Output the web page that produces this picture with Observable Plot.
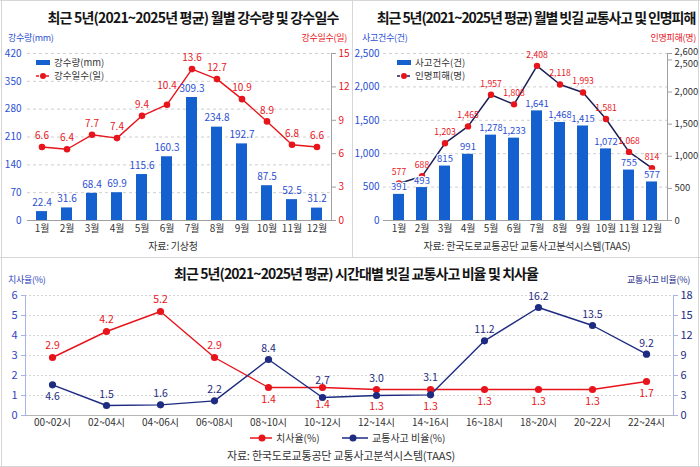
<!DOCTYPE html>
<html>
<head>
<meta charset="utf-8">
<script src="https://cdn.jsdelivr.net/npm/d3@7"></script>
<script src="https://cdn.jsdelivr.net/npm/@observablehq/plot@0.6"></script>
<style>
  html, body { margin: 0; padding: 0; background: #fff; font-family: "Noto Sans CJK KR", "Noto Sans", sans-serif; }
  #page { position: relative; width: 700px; height: 467px; overflow: hidden; background: #fff; }
  .abs { position: absolute; white-space: nowrap; line-height: 1; }
  .title { font-weight: 700; font-size: 14px; color: #141414; transform: translateX(-50%); }
  .axt { font-size: 9px; letter-spacing: -0.3px; }
  .src { font-size: 10px; color: #333; transform: translateX(-50%); letter-spacing: -0.2px; }
  .leg { font-size: 9.5px; color: #333; display: flex; align-items: center; gap: 4px; }
  .chart { position: absolute; line-height: 0; }
  .chart svg { display: block; margin: 0; }
  .rule { position: absolute; background: #d6d6d6; }
</style>
</head>
<body>
<div id="page">
  <div class="rule" style="left:0;top:0;width:700px;height:1px"></div>
  <div class="rule" style="left:0;top:466px;width:700px;height:1px"></div>
  <div class="rule" style="left:1px;top:0;width:1px;height:467px"></div>
  <div class="rule" style="left:698px;top:0;width:1px;height:467px"></div>
  <div class="rule" style="left:352px;top:0;width:1px;height:257px"></div>
  <div class="rule" style="left:0;top:257px;width:700px;height:1px"></div>

  <div id="tl" class="chart" style="left:0;top:0;width:352px;height:257px"></div>
  <div id="tr" class="chart" style="left:353px;top:0;width:347px;height:257px"></div>
  <div id="bt" class="chart" style="left:0;top:258px;width:700px;height:209px"></div>

  <div class="abs title" style="left:193px;top:10px;letter-spacing:-0.8px">최근 5년(2021~2025년 평균) 월별 강수량 및 강수일수</div>
  <div class="abs title" style="left:536px;top:10px;letter-spacing:-1.1px">최근 5년(2021~2025년 평균) 월별 빗길 교통사고 및 인명피해</div>
  <div class="abs title" style="left:356px;top:266px;letter-spacing:-0.9px">최근 5년(2021~2025년 평균) 시간대별 빗길 교통사고 비율 및 치사율</div>

  <div class="abs axt" style="left:8px;top:33px;color:#2b4fd3">강수량(mm)</div>
  <div class="abs axt" style="right:353px;top:33px;color:#e8141c">강수일수(일)</div>
  <div class="abs axt" style="left:362px;top:33px;color:#2b4fd3">사고건수(건)</div>
  <div class="abs axt" style="right:4px;top:33px;color:#e8141c">인명피해(명)</div>
  <div class="abs axt" style="left:8px;top:275px;color:#2f45c0">치사율(%)</div>
  <div class="abs axt" style="right:10px;top:275px;color:#1f2e8a">교통사고 비율(%)</div>

  <div class="abs leg" style="left:36px;top:58px">
    <svg width="14" height="8"><rect x="0" y="1" width="14" height="5" fill="#1560cf"/></svg><span>강수량(mm)</span>
  </div>
  <div class="abs leg" style="left:36px;top:71px">
    <svg width="14" height="8"><line x1="0" y1="4" x2="14" y2="4" stroke="#e8141c" stroke-dasharray="3,2" stroke-width="1.5"/><circle cx="7" cy="4" r="3" fill="#e8141c"/></svg><span>강수일수(일)</span>
  </div>
  <div class="abs leg" style="left:397px;top:58px">
    <svg width="14" height="8"><rect x="0" y="1" width="14" height="5" fill="#1560cf"/></svg><span>사고건수(건)</span>
  </div>
  <div class="abs leg" style="left:397px;top:71px">
    <svg width="14" height="8"><line x1="0" y1="4" x2="14" y2="4" stroke="#1b1f55" stroke-dasharray="3,2" stroke-width="1.5"/><circle cx="7" cy="4" r="3" fill="#e8141c"/></svg><span>인명피해(명)</span>
  </div>
  <div class="abs leg" style="left:250px;top:433px;font-size:10px">
    <svg width="22" height="10"><line x1="0" y1="5" x2="22" y2="5" stroke="#e8141c" stroke-width="1.5"/><circle cx="12" cy="5" r="3.5" fill="#e8141c"/></svg><span>치사율(%)</span>
  </div>
  <div class="abs leg" style="left:342px;top:433px;font-size:10px">
    <svg width="26" height="10"><line x1="0" y1="5" x2="26" y2="5" stroke="#1d2b80" stroke-width="1.5"/><circle cx="11" cy="5" r="3.5" fill="#1d2b80"/></svg><span>교통사고 비율(%)</span>
  </div>

  <div class="abs src" style="left:173px;top:241px">자료: 기상청</div>
  <div class="abs src" style="left:527px;top:241px">자료: 한국도로교통공단 교통사고분석시스템(TAAS)</div>
  <div class="abs src" style="left:341px;top:450px;font-size:11px">자료: 한국도로교통공단 교통사고분석시스템(TAAS)</div>
</div>

<script>
// Monthly averages, 2021–2025
const months = ["1월", "2월", "3월", "4월", "5월", "6월", "7월", "8월", "9월", "10월", "11월", "12월"];
const rainfall = [22.4, 31.6, 68.4, 69.9, 115.6, 160.3, 309.3, 234.8, 192.7, 87.5, 52.5, 31.2];   // mm
const rainDays = [6.6, 6.4, 7.7, 7.4, 9.4, 10.4, 13.6, 12.7, 10.9, 8.9, 6.8, 6.6];                // days
const accidents = [391, 493, 815, 991, 1278, 1233, 1641, 1468, 1415, 1072, 755, 577];             // cases
const casualties = [577, 688, 1203, 1465, 1957, 1808, 2408, 2118, 1993, 1581, 1068, 814];         // persons

// Two-hour time slots
const hours = ["00~02시", "02~04시", "04~06시", "06~08시", "08~10시", "10~12시",
               "12~14시", "14~16시", "16~18시", "18~20시", "20~22시", "22~24시"];
const fatality = [2.9, 4.2, 5.2, 2.9, 1.4, 1.4, 1.3, 1.3, 1.3, 1.3, 1.3, 1.7];                    // %
const accidentShare = [4.6, 1.5, 1.6, 2.2, 8.4, 2.7, 3.0, 3.1, 11.2, 16.2, 13.5, 9.2];             // %

// Axis ticks
const rainTicks = [0, 70, 140, 210, 280, 350, 420];
const rainDayTicks = [0, 3, 6, 9, 12, 15];
const accidentTicks = [0, 500, 1000, 1500, 2000, 2500];
const casualtyTicks = [0, 500, 1000, 1500, 2000, 2500, 2600];
const fatalityTicks = [0, 1, 2, 3, 4, 5, 6];
const shareTicks = [0, 3, 6, 9, 12, 15, 18];

const RED = "#e8141c", BLUE = "#1560cf", BLUE_TXT = "#2b4fd3", NAVY = "#1b1f55", NAVY2 = "#1d2b80";
const FONT = '"Noto Sans CJK KR", "Noto Sans", sans-serif';
const fmt = d3.format(",");

// ---------- Rainfall and rainy days ----------
{
  const data = months.map((m, i) => ({month: m, rain: rainfall[i], days: rainDays[i], i}));
  const k = 420 / 15; // rainy-day units onto the rainfall axis
  const chart = Plot.plot({
    width: 352, height: 257,
    marginLeft: 27, marginRight: 21, marginTop: 53, marginBottom: 37,
    style: {fontFamily: FONT, fontSize: "10px", background: "transparent", overflow: "visible"},
    x: {domain: months, paddingInner: 0.55, paddingOuter: 0.275, axis: null},
    y: {domain: [0, 420], axis: null},
    marks: [
      Plot.gridY(rainTicks.slice(1), {stroke: "#cfcfcf", strokeOpacity: 1, strokeDasharray: "3,3"}),
      Plot.barY(data, {x: "month", y: "rain", fill: BLUE}),
      Plot.ruleY([0], {stroke: "#a0a0a0"}),
      Plot.frame({anchor: "right", stroke: "#a0a0a0"}),
      Plot.axisX({tickSize: 0, tickPadding: 4, fill: "#333", label: null, fontSize: 10}),
      Plot.axisY(rainTicks, {anchor: "left", tickSize: 0, tickPadding: 6, fill: BLUE_TXT, label: null}),
      Plot.axisY(rainDayTicks.map(v => v * k), {anchor: "right", tickFormat: d => Math.round(d / k),
        tickSize: 4, tickPadding: 3, stroke: "#a0a0a0", fill: RED, label: null}),
      Plot.line(data, {x: "month", y: d => d.days * k, stroke: RED, strokeWidth: 1.4}),
      Plot.dot(data, {x: "month", y: d => d.days * k, r: 3.3, fill: RED}),
      Plot.text(data, {x: "month", y: "rain", text: d => d.rain.toFixed(1), dy: -9, fill: BLUE_TXT}),
      Plot.text(data, {x: "month", y: d => d.days * k, text: d => d.days.toFixed(1), dy: -11, fill: RED,
        filter: d => d.i !== 5}),
      // June's label sits higher, clear of the rising segment
      Plot.text(data, {x: "month", y: d => d.days * k, text: d => d.days.toFixed(1), dy: -19, fill: RED,
        filter: d => d.i === 5})
    ]
  });
  document.getElementById("tl").append(chart);
}

// ---------- Rainy-road accidents and casualties ----------
{
  const data = months.map((m, i) => ({month: m, acc: accidents[i], cas: casualties[i]}));
  const k = 2500 / 2600; // casualty units onto the accident axis
  const tickText = {y: d => d * k, text: fmt, frameAnchor: "right", textAnchor: "start", dx: 7, fill: "#333", fontSize: 9.5};
  const chart = Plot.plot({
    width: 347, height: 257,
    marginLeft: 30, marginRight: 33, marginTop: 53, marginBottom: 37,
    style: {fontFamily: FONT, fontSize: "10px", background: "transparent", overflow: "visible"},
    x: {domain: months, paddingInner: 0.53, paddingOuter: 0.2, axis: null},
    y: {domain: [0, 2500], axis: null},
    marks: [
      Plot.gridY(accidentTicks.slice(1), {stroke: "#cfcfcf", strokeOpacity: 1, strokeDasharray: "3,3"}),
      Plot.barY(data, {x: "month", y: "acc", fill: BLUE}),
      Plot.ruleY([0], {stroke: "#a0a0a0"}),
      Plot.frame({anchor: "right", stroke: "#a0a0a0"}),
      Plot.axisX({tickSize: 0, tickPadding: 4, fill: "#333", label: null, fontSize: 10}),
      Plot.axisY(accidentTicks, {anchor: "left", tickSize: 0, tickPadding: 4, tickFormat: fmt, fill: BLUE_TXT, label: null}),
      // right axis: tick marks, then labels (the two top labels spread apart so they stay legible)
      Plot.axisY(casualtyTicks.map(v => v * k), {anchor: "right", tickFormat: () => "",
        tickSize: 4, stroke: "#a0a0a0", label: null}),
      Plot.text(casualtyTicks, {...tickText, filter: d => d < 2500}),
      Plot.text(casualtyTicks, {...tickText, filter: d => d === 2500, dy: 4}),
      Plot.text(casualtyTicks, {...tickText, filter: d => d === 2600, dy: -2}),
      Plot.line(data, {x: "month", y: d => d.cas * k, stroke: NAVY, strokeWidth: 1.5}),
      Plot.dot(data, {x: "month", y: d => d.cas * k, r: 3.2, fill: RED}),
      Plot.text(data, {x: "month", y: "acc", text: d => fmt(d.acc), dy: -7, fill: BLUE_TXT, fontSize: 9.5,
        letterSpacing: -0.4, stroke: "white", strokeWidth: 2.5, paintOrder: "stroke"}),
      Plot.text(data, {x: "month", y: d => d.cas * k, text: d => fmt(d.cas), dy: -11, fill: RED, fontSize: 8.6, letterSpacing: -0.5})
    ]
  });
  document.getElementById("tr").append(chart);
}

// ---------- Share of accidents and fatality rate by time slot ----------
{
  const data = hours.map((h, i) => ({hour: h, fat: fatality[i], share: accidentShare[i], i}));
  const k = 6 / 18; // share units onto the fatality axis
  const label = {fontSize: 10.5};
  const chart = Plot.plot({
    width: 700, height: 209,
    marginLeft: 25, marginRight: 27, marginTop: 37, marginBottom: 52,
    style: {fontFamily: FONT, fontSize: "10px", background: "transparent", overflow: "visible"},
    x: {type: "point", domain: hours, padding: 0.43, axis: null},
    y: {domain: [0, 6], axis: null},
    marks: [
      Plot.gridY(fatalityTicks.slice(1), {stroke: "#d4d4d4", strokeOpacity: 1, strokeDasharray: "2,2"}),
      Plot.ruleY([0], {stroke: "#b5b5b5"}),
      Plot.frame({anchor: "left", stroke: "#aab3e6"}),
      Plot.frame({anchor: "right", stroke: "#aab3e6"}),
      Plot.axisX({tickSize: 0, tickPadding: 3, fill: "#333", label: null, fontSize: 10}),
      Plot.axisY(fatalityTicks, {anchor: "left", tickSize: 4, tickPadding: 4, stroke: "#aab3e6", fill: "#2f45c0", label: null, fontSize: 11}),
      Plot.axisY(shareTicks.map(v => v * k), {anchor: "right", tickFormat: d => Math.round(d / k),
        tickSize: 4, tickPadding: 3, stroke: "#aab3e6", fill: NAVY2, label: null, fontSize: 11}),
      Plot.line(data, {x: "hour", y: "fat", stroke: RED, strokeWidth: 1.4}),
      Plot.line(data, {x: "hour", y: d => d.share * k, stroke: NAVY2, strokeWidth: 1.4}),
      Plot.dot(data, {x: "hour", y: "fat", r: 3.6, fill: RED}),
      Plot.dot(data, {x: "hour", y: d => d.share * k, r: 3.6, fill: NAVY2}),
      // fatality labels: above for the night peak, below afterwards (lower where the blue line runs close)
      Plot.text(data, {...label, x: "hour", y: "fat", text: d => d.fat.toFixed(1), fill: RED,
        filter: d => d.i < 4, dy: -12}),
      Plot.text(data, {...label, x: "hour", y: "fat", text: d => d.fat.toFixed(1), fill: RED,
        filter: d => d.i === 4 || d.i > 7, dy: 12}),
      Plot.text(data, {...label, x: "hour", y: "fat", text: d => d.fat.toFixed(1), fill: RED,
        filter: d => d.i >= 5 && d.i <= 7, dy: 17}),
      // share labels: below for the first slot, above elsewhere (higher where the red line runs close)
      Plot.text(data, {...label, x: "hour", y: d => d.share * k, text: d => d.share.toFixed(1), fill: NAVY2,
        filter: d => d.i === 0, dy: 12}),
      Plot.text(data, {...label, x: "hour", y: d => d.share * k, text: d => d.share.toFixed(1), fill: NAVY2,
        filter: d => d.i > 0 && (d.i < 5 || d.i > 7), dy: -11}),
      Plot.text(data, {...label, x: "hour", y: d => d.share * k, text: d => d.share.toFixed(1), fill: NAVY2,
        filter: d => d.i >= 5 && d.i <= 7, dy: -17})
    ]
  });
  document.getElementById("bt").append(chart);
}
</script>
</body>
</html>
